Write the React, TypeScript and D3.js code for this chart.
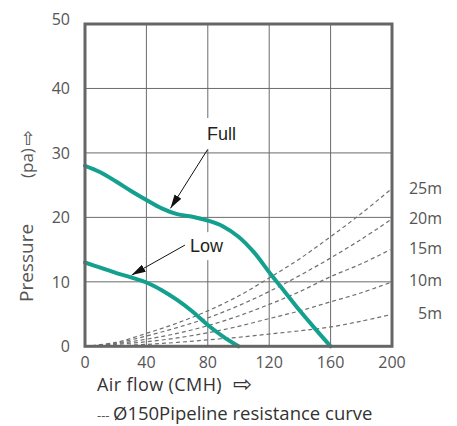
import React from "react";
import * as d3 from "d3";

const xTicks = [0, 40, 80, 120, 160, 200];
const yTicks = [0, 10, 20, 30, 40, 50];

const fullFlow = [0, 10, 20, 30, 40, 50, 60, 70, 80, 90, 100, 110, 120, 130, 140, 150, 160];
const fullPressure = [28, 27, 25.6, 24.1, 22.7, 21.4, 20.5, 20.1, 19.5, 18.6, 17.0, 14.6, 11.5, 8.5, 5.5, 2.7, 0];

const lowFlow = [0, 10, 20, 30, 40, 50, 60, 70, 80, 90, 100];
const lowPressure = [13, 12.2, 11.4, 10.7, 9.9, 8.7, 7.2, 5.4, 3.3, 1.5, 0];

const resistFlow = [0, 20, 40, 60, 80, 100, 120, 140, 160, 180, 199];
const resist25 = [0, 0.6, 2.0, 3.6, 5.5, 7.8, 10.6, 13.6, 17.0, 20.6, 24.3];
const resist20 = [0, 0.5, 1.6, 2.9, 4.4, 6.3, 8.5, 11.0, 13.7, 16.6, 19.6];
const resist15 = [0, 0.4, 1.1, 2.0, 3.2, 4.7, 6.5, 8.5, 10.8, 12.8, 15.0];
const resist10 = [0, 0.3, 0.7, 1.3, 2.1, 3.1, 4.3, 5.5, 6.9, 8.3, 9.9];
const resist5 = [0, 0.1, 0.3, 0.6, 1.0, 1.4, 1.9, 2.4, 3.0, 3.9, 4.9];
const resistSeries = [resist25, resist20, resist15, resist10, resist5];
const resistLabels = ["25m", "20m", "15m", "10m", "5m"];

const xTitle = "Air flow (CMH)";
const arrowGlyph = "⇨";
const legendText = "Ø150Pipeline resistance curve";

const TEAL = "#14a08f";
const GRID = "#6b6b6b";

export default function App() {
  const x = d3.scaleLinear().domain([0, 200]).range([85, 392]);
  const y = d3.scaleLinear().domain([0, 50]).range([346.3, 24]);

  const line = d3
    .line<[number, number]>()
    .x((d) => x(d[0]))
    .y((d) => y(d[1]))
    .curve(d3.curveCatmullRom.alpha(0.5));

  const fullPts = fullFlow.map((f, i) => [f, fullPressure[i]] as [number, number]);
  const lowPts = lowFlow.map((f, i) => [f, lowPressure[i]] as [number, number]);

  const numFont = "'Open Sans', 'Noto Sans', sans-serif";
  const annFont = "'Liberation Sans', Arial, sans-serif";
  const arrowFont = "'DejaVu Sans', sans-serif";

  const fullText = { x: x(79.5), y: y(32.0) };
  const fullArrow = { x1: x(79.8), y1: y(30.5), x2: x(55.7), y2: y(21.4) };
  const lowText = { x: x(68.4), y: y(14.6) };
  const lowArrow = { x1: x(65.1), y1: y(15.7), x2: x(30.4), y2: y(11.05) };

  return (
    <svg
      width={457}
      height={426}
      style={{ position: "absolute", left: 0, top: 0, background: "#fff" }}
    >
      <defs>
        <marker
          id="ah"
          viewBox="0 0 14 8"
          refX={14}
          refY={4}
          markerWidth={14}
          markerHeight={8}
          markerUnits="userSpaceOnUse"
          orient="auto"
        >
          <path d="M0,0 L14,4 L0,8 Z" fill="#111" />
        </marker>
      </defs>
      <rect x={0} y={0} width={457} height={426} fill="#fff" />

      {xTicks.slice(1, -1).map((t) => (
        <line key={"gx" + t} x1={x(t)} x2={x(t)} y1={y(50)} y2={y(0)} stroke={GRID} strokeWidth={1} />
      ))}
      {yTicks.slice(1, -1).map((t) => (
        <line key={"gy" + t} x1={x(0)} x2={x(200)} y1={y(t)} y2={y(t)} stroke={GRID} strokeWidth={1} />
      ))}

      {resistSeries.map((s, i) => (
        <path
          key={"r" + i}
          d={line(resistFlow.map((f, j) => [f, s[j]] as [number, number])) || ""}
          fill="none"
          stroke="#6f6f6f"
          strokeWidth={1.2}
          strokeDasharray="4,3"
        />
      ))}

      <rect x={fullText.x - 6} y={fullText.y - 22} width={40} height={31} fill="#fff" />
      <rect x={lowText.x - 5} y={lowText.y - 20} width={44} height={28} fill="#fff" />

      <path d={line(fullPts) || ""} fill="none" stroke={TEAL} strokeWidth={4} strokeLinecap="round" />
      <path d={line(lowPts) || ""} fill="none" stroke={TEAL} strokeWidth={4} strokeLinecap="round" />

      <rect x={x(0)} y={y(50)} width={x(200) - x(0)} height={y(0) - y(50)} fill="none" stroke="#666" strokeWidth={3} />

      <line {...fullArrow} stroke="#111" strokeWidth={1} markerEnd="url(#ah)" />
      <line {...lowArrow} stroke="#111" strokeWidth={1} markerEnd="url(#ah)" />
      <text x={fullText.x} y={fullText.y} fontFamily={annFont} fontSize={18} fill="#231f20">Full</text>
      <text x={lowText.x} y={lowText.y} fontFamily={annFont} fontSize={18} fill="#231f20">Low</text>

      {yTicks.map((t) => (
        <text
          key={"yt" + t}
          x={70}
          y={y(t) + (t === 50 ? -5 : 0)}
          textAnchor="end"
          dominantBaseline="central"
          fontFamily={numFont}
          fontSize={16}
          fill="#555"
        >
          {t}
        </text>
      ))}
      {xTicks.map((t) => (
        <text key={"xt" + t} x={x(t)} y={367.5} textAnchor="middle" fontFamily={numFont} fontSize={16} fill="#555">
          {t}
        </text>
      ))}

      {resistSeries.map((s, i) => (
        <text
          key={"rl" + i}
          x={442}
          y={y(s[s.length - 1]) - 2}
          textAnchor="end"
          dominantBaseline="central"
          fontFamily={numFont}
          fontSize={16}
          fill="#555"
        >
          {resistLabels[i]}
        </text>
      ))}

      <g transform="translate(33,0) rotate(-90)">
        <text fontFamily={numFont} fontSize={19} fill="#555">
          <tspan x={-302}>Pressure</tspan>
          <tspan x={-178} fontSize={17}>(pa)</tspan>
          <tspan x={-146} dy={1} fontFamily={arrowFont} fontSize={19}>{arrowGlyph}</tspan>
        </text>
      </g>

      <text x={97} y={391} fontFamily={numFont} fontSize={18} letterSpacing={0.4} fill="#333">
        {xTitle}
        <tspan x={233} dy={1} fontFamily={arrowFont} fontSize={23} letterSpacing={0} fill="#333">{arrowGlyph}</tspan>
      </text>

      <text x={97} y={420} fontFamily={numFont} fontSize={13} fill="#555">---</text>
      <text x={113} y={420} fontFamily={numFont} fontSize={18.5} fill="#333">
        {legendText}
      </text>
    </svg>
  );
}
